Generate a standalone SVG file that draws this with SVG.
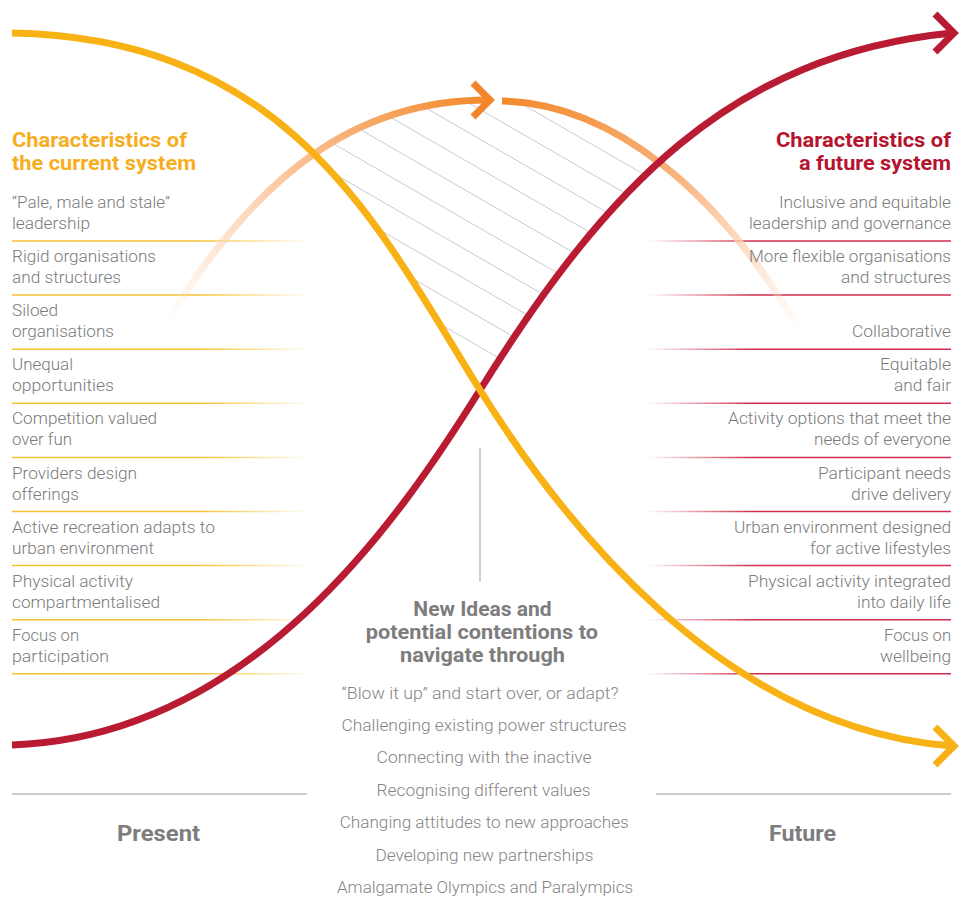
<svg xmlns="http://www.w3.org/2000/svg" width="961" height="898" viewBox="0 0 961 898">
  <style>
    .item { font-family: Roboto, "Liberation Sans", sans-serif; font-size: 17px; font-weight: 300; fill: #7b7b7b; }
    .idea { font-family: Roboto, "Liberation Sans", sans-serif; font-size: 17px; font-weight: 300; fill: #858585; }
    .head { font-family: Roboto, "Liberation Sans", sans-serif; font-size: 21px; font-weight: 700; }
    .gray-head { font-family: Roboto, "Liberation Sans", sans-serif; font-size: 20px; font-weight: 700; fill: #7d7d7d; }
    .era { font-family: Roboto, "Liberation Sans", sans-serif; font-size: 22px; font-weight: 700; fill: #7d7d7d; }
    .sep-l { stroke: url(#sepLeft); stroke-width: 1.5; fill: none; }
    .sep-r { stroke: url(#sepRight); stroke-width: 1.5; fill: none; }
    .hatch { stroke: #c9cacf; stroke-width: 1; fill: none; }
    .curve { fill: none; stroke-width: 7; stroke-linecap: butt; }
    .chev { fill: none; stroke-width: 7; stroke-linecap: butt; stroke-linejoin: miter; stroke-miterlimit: 6; }
    .rule { stroke: #9c9c9c; stroke-width: 1.2; }
  </style>
  <defs>
    <linearGradient id="sepLeft" gradientUnits="userSpaceOnUse" x1="12" y1="0" x2="312" y2="0">
      <stop offset="0" stop-color="#f6c235"/>
      <stop offset="0.62" stop-color="#f6c235"/>
      <stop offset="1" stop-color="#f6c235" stop-opacity="0"/>
    </linearGradient>
    <linearGradient id="sepRight" gradientUnits="userSpaceOnUse" x1="646" y1="0" x2="951" y2="0">
      <stop offset="0" stop-color="#cf2d4b" stop-opacity="0"/>
      <stop offset="0.35" stop-color="#cf2d4b"/>
      <stop offset="1" stop-color="#cf2d4b"/>
    </linearGradient>
    <linearGradient id="arcLeft" gradientUnits="userSpaceOnUse" x1="163" y1="328" x2="488" y2="100">
      <stop offset="0" stop-color="#fde2cd" stop-opacity="0"/>
      <stop offset="0.25" stop-color="#fdd7ba" stop-opacity="0.7"/>
      <stop offset="0.5" stop-color="#fbc297"/>
      <stop offset="1" stop-color="#f3892b"/>
    </linearGradient>
    <linearGradient id="arcRight" gradientUnits="userSpaceOnUse" x1="502" y1="100" x2="800" y2="332">
      <stop offset="0" stop-color="#f3892b"/>
      <stop offset="0.5" stop-color="#f9b47f"/>
      <stop offset="0.78" stop-color="#fcd6b8" stop-opacity="0.7"/>
      <stop offset="1" stop-color="#fde2cd" stop-opacity="0"/>
    </linearGradient>
    <clipPath id="dome">
      <path d="M163,328 C255,175 355,100 488,100 L502,101 C610,103 720,190 800,332 L800,430 L163,430 Z"/>
    </clipPath>
    <clipPath id="vee">
      <path d="M12,33 C292,38 380,230 480,390 C606,188 730,55 954,33 L954,0 L12,0 Z"/>
    </clipPath>
  </defs>

  <rect width="961" height="898" fill="#ffffff"/>

  <!-- row dividers -->
  <g id="dividers">
    <path class="sep-l" d="M12,241H312 M12,295.1H312 M12,349.2H312 M12,403.3H312 M12,457.4H312 M12,511.5H312 M12,565.6H312 M12,619.7H312 M12,673.8H312"/>
    <path class="sep-r" d="M646,241H951 M646,295.1H951 M646,349.2H951 M646,403.3H951 M646,457.4H951 M646,511.5H951 M646,565.6H951 M646,619.7H951 M646,673.8H951"/>
  </g>

  <!-- transition zone hatching -->
  <g id="transition-zone" clip-path="url(#dome)">
    <g clip-path="url(#vee)">
      <path class="hatch" d="M280,231.7L700,474 M280,202L700,444.3 M280,172.3L700,414.6 M280,142.6L700,384.9 M280,112.9L700,355.2 M280,83.2L700,325.5 M280,53.5L700,295.8 M280,23.8L700,266.1 M280,-5.9L700,236.4 M280,-35.6L700,206.7"/>
    </g>
  </g>

  <!-- horizon curves -->
  <g id="connectors">
    <g id="second-horizon">
      <path class="curve" stroke="url(#arcLeft)" d="M163,328 C255,175 355,100 488,100"/>
      <path class="chev" stroke="#f2842a" d="M473,83 L490,100 L473,117"/>
      <path class="curve" stroke="url(#arcRight)" d="M502,101 C610,103 720,190 800,332"/>
    </g>
    <g id="third-horizon">
      <path class="curve" stroke="#b91b33" d="M12,745 C252,737 400,518 480,390 C606,188 730,55 952,33"/>
      <path class="chev" stroke="#b91b33" d="M935,14 L954,33 L935,52"/>
    </g>
    <g id="first-horizon">
      <path class="curve" stroke="#f8b216" d="M12,33 C292,38 380,230 480,390 C560,518 720,728 952,746"/>
      <path class="chev" stroke="#f8b216" d="M935,727 L954,746 L935,765"/>
    </g>
  </g>

  <!-- current system -->
  <g id="current-system">
    <text class="head" fill="#f6ae1f" x="12" y="147" textLength="175" lengthAdjust="spacingAndGlyphs">Characteristics of</text>
    <text class="head" fill="#f6ae1f" x="12" y="170" textLength="184" lengthAdjust="spacingAndGlyphs">the current system</text>
    <g class="item">
      <text x="12" y="208" textLength="158" lengthAdjust="spacingAndGlyphs">“Pale, male and stale”</text>
      <text x="12" y="229" textLength="78" lengthAdjust="spacingAndGlyphs">leadership</text>
      <text x="12" y="262.1" textLength="144" lengthAdjust="spacingAndGlyphs">Rigid organisations</text>
      <text x="12" y="283.1" textLength="109" lengthAdjust="spacingAndGlyphs">and structures</text>
      <text x="12" y="316.2" textLength="46" lengthAdjust="spacingAndGlyphs">Siloed</text>
      <text x="12" y="337.2" textLength="102" lengthAdjust="spacingAndGlyphs">organisations</text>
      <text x="12" y="370.3" textLength="61" lengthAdjust="spacingAndGlyphs">Unequal</text>
      <text x="12" y="391.3" textLength="102" lengthAdjust="spacingAndGlyphs">opportunities</text>
      <text x="12" y="424.4" textLength="145" lengthAdjust="spacingAndGlyphs">Competition valued</text>
      <text x="12" y="445.4" textLength="60" lengthAdjust="spacingAndGlyphs">over fun</text>
      <text x="12" y="478.5" textLength="125" lengthAdjust="spacingAndGlyphs">Providers design</text>
      <text x="12" y="499.5" textLength="67" lengthAdjust="spacingAndGlyphs">offerings</text>
      <text x="12" y="532.6" textLength="203" lengthAdjust="spacingAndGlyphs">Active recreation adapts to</text>
      <text x="12" y="553.6" textLength="142" lengthAdjust="spacingAndGlyphs">urban environment</text>
      <text x="12" y="586.7" textLength="121" lengthAdjust="spacingAndGlyphs">Physical activity</text>
      <text x="12" y="607.7" textLength="148" lengthAdjust="spacingAndGlyphs">compartmentalised</text>
      <text x="12" y="640.8" textLength="67" lengthAdjust="spacingAndGlyphs">Focus on</text>
      <text x="12" y="661.8" textLength="97" lengthAdjust="spacingAndGlyphs">participation</text>
    </g>
  </g>

  <!-- future system -->
  <g id="future-system">
    <text class="head" fill="#b5142f" x="776" y="147" textLength="175" lengthAdjust="spacingAndGlyphs">Characteristics of</text>
    <text class="head" fill="#b5142f" x="799" y="170" textLength="152" lengthAdjust="spacingAndGlyphs">a future system</text>
    <g class="item">
      <text x="779" y="208" textLength="172" lengthAdjust="spacingAndGlyphs">Inclusive and equitable</text>
      <text x="749" y="229" textLength="202" lengthAdjust="spacingAndGlyphs">leadership and governance</text>
      <text x="749" y="262.1" textLength="202" lengthAdjust="spacingAndGlyphs">More flexible organisations</text>
      <text x="841" y="283.1" textLength="110" lengthAdjust="spacingAndGlyphs">and structures</text>
      <text x="852" y="337.2" textLength="99" lengthAdjust="spacingAndGlyphs">Collaborative</text>
      <text x="880" y="370.3" textLength="71" lengthAdjust="spacingAndGlyphs">Equitable</text>
      <text x="894" y="391.3" textLength="57" lengthAdjust="spacingAndGlyphs">and fair</text>
      <text x="728" y="424.4" textLength="223" lengthAdjust="spacingAndGlyphs">Activity options that meet the</text>
      <text x="814" y="445.4" textLength="137" lengthAdjust="spacingAndGlyphs">needs of everyone</text>
      <text x="818" y="478.5" textLength="133" lengthAdjust="spacingAndGlyphs">Participant needs</text>
      <text x="851" y="499.5" textLength="100" lengthAdjust="spacingAndGlyphs">drive delivery</text>
      <text x="734" y="532.6" textLength="217" lengthAdjust="spacingAndGlyphs">Urban environment designed</text>
      <text x="810" y="553.6" textLength="141" lengthAdjust="spacingAndGlyphs">for active lifestyles</text>
      <text x="748" y="586.7" textLength="203" lengthAdjust="spacingAndGlyphs">Physical activity integrated</text>
      <text x="857" y="607.7" textLength="94" lengthAdjust="spacingAndGlyphs">into daily life</text>
      <text x="884" y="640.8" textLength="67" lengthAdjust="spacingAndGlyphs">Focus on</text>
      <text x="880" y="661.8" textLength="71" lengthAdjust="spacingAndGlyphs">wellbeing</text>
    </g>
  </g>

  <!-- new ideas and contentions -->
  <g id="new-ideas">
    <line x1="480" y1="448" x2="480" y2="582" stroke="#c3c3c3" stroke-width="1.6"/>
    <text class="gray-head" x="413.3" y="616" textLength="138.4" lengthAdjust="spacingAndGlyphs">New Ideas and</text>
    <text class="gray-head" x="365.7" y="639" textLength="232.3" lengthAdjust="spacingAndGlyphs">potential contentions to</text>
    <text class="gray-head" x="400" y="662" textLength="165" lengthAdjust="spacingAndGlyphs">navigate through</text>
    <g class="idea">
      <text x="341.5" y="698.5" textLength="277" lengthAdjust="spacingAndGlyphs">“Blow it up” and start over, or adapt?</text>
      <text x="341.5" y="730.9" textLength="285" lengthAdjust="spacingAndGlyphs">Challenging existing power structures</text>
      <text x="376.6" y="763.3" textLength="215" lengthAdjust="spacingAndGlyphs">Connecting with the inactive</text>
      <text x="376.6" y="795.7" textLength="214" lengthAdjust="spacingAndGlyphs">Recognising different values</text>
      <text x="339.7" y="828.1" textLength="289" lengthAdjust="spacingAndGlyphs">Changing attitudes to new approaches</text>
      <text x="375.4" y="860.5" textLength="218" lengthAdjust="spacingAndGlyphs">Developing new partnerships</text>
      <text x="337" y="892.9" textLength="296" lengthAdjust="spacingAndGlyphs">Amalgamate Olympics and Paralympics</text>
    </g>
  </g>

  <!-- timeline labels -->
  <g id="present">
    <line class="rule" x1="12" y1="794" x2="307" y2="794"/>
    <text class="era" x="117" y="841" textLength="83" lengthAdjust="spacingAndGlyphs">Present</text>
  </g>
  <g id="future">
    <line class="rule" x1="656" y1="794" x2="951" y2="794"/>
    <text class="era" x="769" y="841" textLength="67" lengthAdjust="spacingAndGlyphs">Future</text>
  </g>
</svg>
